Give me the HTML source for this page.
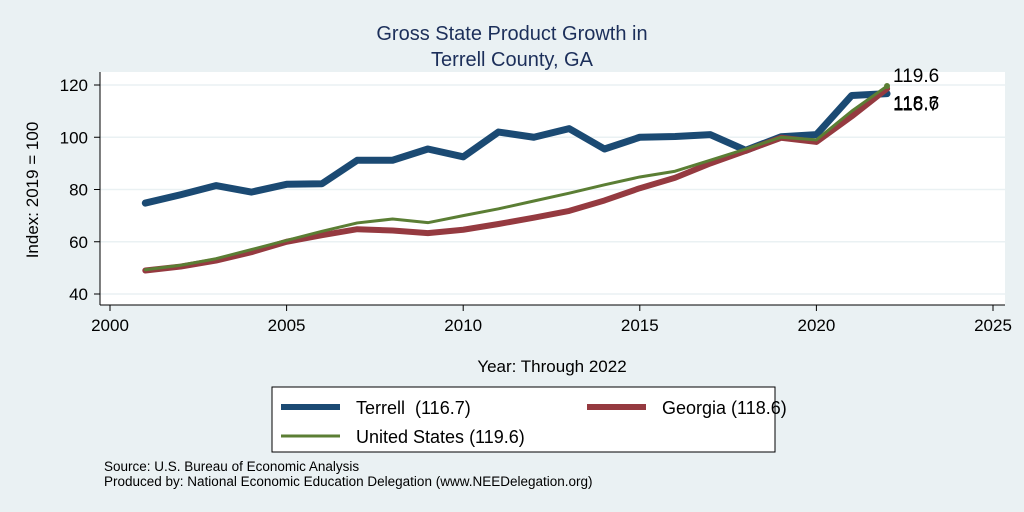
<!DOCTYPE html>
<html><head><meta charset="utf-8"><style>
body{margin:0;background:#eaf1f3;font-family:"Liberation Sans",Arial,sans-serif;}
svg{display:block}
text{white-space:pre}
</style></head><body>
<svg id="c" width="1024" height="512" xmlns="http://www.w3.org/2000/svg">
<rect x="0" y="0" width="1024" height="512" fill="#eaf1f3"/>
<rect x="100" y="72" width="905" height="233" fill="#ffffff"/>
<text x="512" y="40" text-anchor="middle" font-size="20" fill="#1c2f5a">Gross State Product Growth in</text>
<text x="512" y="66" text-anchor="middle" font-size="20" fill="#1c2f5a">Terrell County, GA</text>
<text transform="translate(38,190) rotate(-90)" text-anchor="middle" font-size="17" fill="#000">Index: 2019 = 100</text>
<text x="552" y="372" text-anchor="middle" font-size="17" fill="#000">Year: Through 2022</text>
<g id="grid"></g><g id="axes"></g><g id="series"></g><g id="labels"></g>
<rect x="272" y="387" width="503" height="65" fill="#fff" stroke="#000" stroke-width="1"/>
<g><line x1="281" y1="407" x2="340" y2="407" stroke="#1b4a73" stroke-width="6"/><text x="356" y="414" font-size="18">Terrell  (116.7)</text></g>
<g><line x1="587" y1="407" x2="646" y2="407" stroke="#953a40" stroke-width="6"/><text x="662" y="414" font-size="18">Georgia (118.6)</text></g>
<g><line x1="281" y1="436" x2="340" y2="436" stroke="#5b7e34" stroke-width="3"/><text x="356" y="443" font-size="18">United States (119.6)</text></g>
<text x="104" y="471" font-size="13.5">Source: U.S. Bureau of Economic Analysis</text>
<text x="104" y="486" font-size="13.5">Produced by: National Economic Education Delegation (www.NEEDelegation.org)</text>
</svg>
<script>
const years=[2001,2002,2003,2004,2005,2006,2007,2008,2009,2010,2011,2012,2013,2014,2015,2016,2017,2018,2019,2020,2021,2022];
const terrell=[74.8,78,81.5,79,82,82.2,91.2,91.2,95.5,92.5,102,100,103.3,95.5,100,100.3,101,95,100.2,101,116,116.7];
const georgia=[49,50.5,52.8,56,60,62.5,64.8,64.3,63.3,64.6,66.8,69.2,71.8,75.8,80.5,84.5,90,94.8,99.8,98.2,108,118.6];
const us=[49.3,51,53.5,57,60.5,64,67.2,68.7,67.3,70,72.6,75.6,78.6,81.8,84.8,87,91.2,95.5,100,99,110,119.6];
const yTicks=[40,60,80,100,120];
const xTicks=[2000,2005,2010,2015,2020,2025];
const NS="http://www.w3.org/2000/svg";
const X=v=>110+(v-2000)*(993-110)/25;
const Y=v=>294-(v-40)*(294-85)/80;
function mk(tag,attrs,parent){const e=document.createElementNS(NS,tag);for(const k in attrs)e.setAttribute(k,attrs[k]);document.getElementById(parent).appendChild(e);return e;}
yTicks.forEach(t=>{
 const g=mk('line',{x1:100,x2:1005,y1:Y(t),y2:Y(t),stroke:'#eaf1f3','stroke-width':1.5},'grid');
 
 
 const tk=mk('line',{x1:94,x2:100,y1:Y(t),y2:Y(t),stroke:'#000'},'axes');
 
 
 const l=mk('text',{x:88,y:Y(t)+6,'text-anchor':'end','font-size':17},'axes');l.textContent=t;
 
 
});
const ax=mk('line',{x1:100,x2:1005,y1:305,y2:305,stroke:'#000'},'axes');


const ay=mk('line',{x1:100,x2:100,y1:72,y2:305,stroke:'#000'},'axes');


xTicks.forEach(t=>{
 const tk=mk('line',{x1:X(t),x2:X(t),y1:305,y2:311,stroke:'#000'},'axes');
 
 
 const l=mk('text',{x:X(t),y:331,'text-anchor':'middle','font-size':17},'axes');l.textContent=t;
 
 
});
function line(vals,color,w,name,dy){
 const p=mk('polyline',{points:vals.map((v,i)=>X(years[i])+','+Y(v)).join(' '),fill:'none',stroke:color,'stroke-width':w,'stroke-linejoin':'round','stroke-linecap':'round'},'series');
 
 
 const n=vals.length-1;
 const d=mk('circle',{cx:X(years[n]),cy:Y(vals[n]),r:3,fill:color},'series');
 
 
 const t=mk('text',{x:X(years[n])+6,y:Y(vals[n])+dy,'font-size':19},'labels');t.textContent=vals[n].toFixed(1);
 
 
}
line(terrell,'#1b4a73',7,'terrell-line',17);
line(georgia,'#953a40',6,'georgia-line',21);
line(us,'#5b7e34',3,'us-line',-4);
</script>
</body></html>
